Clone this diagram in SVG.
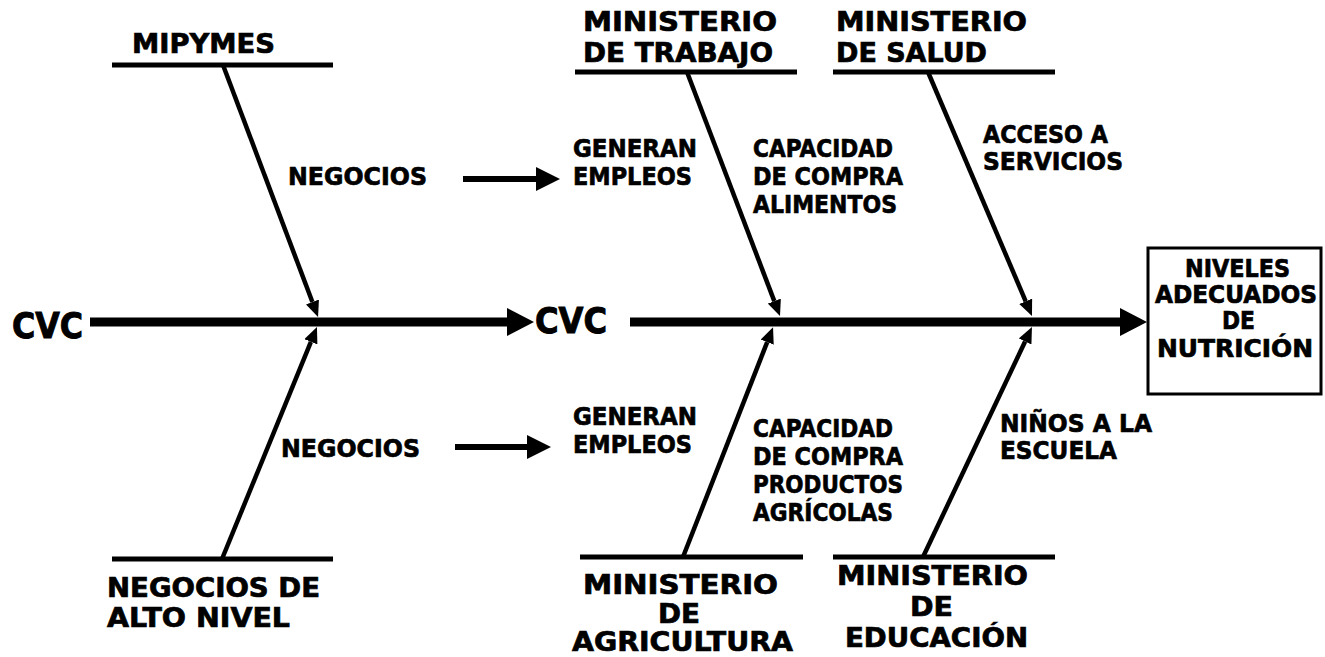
<svg xmlns="http://www.w3.org/2000/svg" width="1325" height="657" viewBox="0 0 1325 657">
<style>
text{font-family:"DejaVu Sans","Verdana","Liberation Sans",sans-serif;font-weight:bold;fill:#000;stroke:#000;stroke-width:0.7px;}
.big{font-size:26px;}
.sm{font-size:25px;}
.box{font-size:24px;}
.cvc{font-size:35px;stroke-width:1px;}
.bone{stroke:#000;stroke-width:5;fill:none;}
.diag{stroke:#000;stroke-width:4.5;fill:none;marker-end:url(#hs);}
.spine{stroke:#000;stroke-width:9;fill:none;marker-end:url(#hb);}
.arr{stroke:#000;stroke-width:6;fill:none;marker-end:url(#hm);}
</style>
<defs>
<marker id="hb" markerUnits="userSpaceOnUse" markerWidth="27" markerHeight="28" refX="0" refY="14" orient="auto"><path d="M0,0 L27,14 L0,28 z" fill="#000"/></marker>
<marker id="hm" markerUnits="userSpaceOnUse" markerWidth="24" markerHeight="24" refX="0" refY="12" orient="auto"><path d="M0,0 L24,12 L0,24 z" fill="#000"/></marker>
<marker id="hs" markerUnits="userSpaceOnUse" markerWidth="16" markerHeight="14" refX="0" refY="7" orient="auto"><path d="M0,0 L16,7 L0,14 z" fill="#000"/></marker>
</defs>
<rect width="1325" height="657" fill="#fff"/>
<g id="connectors">
<line class="spine" x1="90" y1="322" x2="507" y2="322"/>
<line class="spine" x1="630" y1="322" x2="1120" y2="322"/>
<line class="arr" x1="463" y1="179" x2="536" y2="179"/>
<line class="arr" x1="455" y1="447" x2="527" y2="447"/>
<line class="bone" x1="112" y1="65" x2="333" y2="65"/>
<line class="bone" x1="112" y1="559" x2="333" y2="559"/>
<line class="bone" x1="575" y1="72" x2="797" y2="72"/>
<line class="bone" x1="833" y1="72" x2="1055" y2="72"/>
<line class="bone" x1="580" y1="557" x2="803" y2="557"/>
<line class="bone" x1="833" y1="557" x2="1055" y2="557"/>
<line class="diag" x1="223" y1="65" x2="312.4" y2="302"/>
<line class="diag" x1="222" y1="559" x2="310.9" y2="341.8"/>
<line class="diag" x1="687" y1="72" x2="774.3" y2="301.1"/>
<line class="diag" x1="683" y1="557" x2="767.2" y2="342.1"/>
<line class="diag" x1="928" y1="72" x2="1025.7" y2="301.3"/>
<line class="diag" x1="923" y1="557" x2="1025.1" y2="341.5"/>
</g>
<g id="cvc1"><text class="cvc" x="12" y="338" textLength="71" lengthAdjust="spacingAndGlyphs">CVC</text></g>
<g id="cvc2"><text class="cvc" x="535" y="333" textLength="72" lengthAdjust="spacingAndGlyphs">CVC</text></g>
<g id="mipymes"><text class="big" x="132" y="53" textLength="143" lengthAdjust="spacingAndGlyphs">MIPYMES</text></g>
<g id="negocios-alto">
<text class="big" x="107" y="597" textLength="213" lengthAdjust="spacingAndGlyphs">NEGOCIOS DE</text>
<text class="big" x="107" y="627" textLength="183" lengthAdjust="spacingAndGlyphs">ALTO NIVEL</text>
</g>
<g id="negocios-top"><text class="sm" x="288" y="185" textLength="139" lengthAdjust="spacingAndGlyphs">NEGOCIOS</text></g>
<g id="negocios-bottom"><text class="sm" x="281" y="457" textLength="139" lengthAdjust="spacingAndGlyphs">NEGOCIOS</text></g>
<g id="min-trabajo">
<text class="big" x="583" y="31" textLength="194" lengthAdjust="spacingAndGlyphs">MINISTERIO</text>
<text class="big" x="583" y="62" textLength="190" lengthAdjust="spacingAndGlyphs">DE TRABAJO</text>
</g>
<g id="min-salud">
<text class="big" x="836" y="31" textLength="191" lengthAdjust="spacingAndGlyphs">MINISTERIO</text>
<text class="big" x="836" y="62" textLength="151" lengthAdjust="spacingAndGlyphs">DE SALUD</text>
</g>
<g id="min-agricultura">
<text class="big" x="583" y="594" textLength="195" lengthAdjust="spacingAndGlyphs">MINISTERIO</text>
<text class="big" x="658" y="623" textLength="42" lengthAdjust="spacingAndGlyphs">DE</text>
<text class="big" x="572" y="651" textLength="221" lengthAdjust="spacingAndGlyphs">AGRICULTURA</text>
</g>
<g id="min-educacion">
<text class="big" x="837" y="585" textLength="191" lengthAdjust="spacingAndGlyphs">MINISTERIO</text>
<text class="big" x="910" y="616" textLength="43" lengthAdjust="spacingAndGlyphs">DE</text>
<text class="big" x="845" y="647" textLength="183" lengthAdjust="spacingAndGlyphs">EDUCACIÓN</text>
</g>
<g id="generan-top">
<text class="sm" x="573" y="157" textLength="124" lengthAdjust="spacingAndGlyphs">GENERAN</text>
<text class="sm" x="573" y="185" textLength="119" lengthAdjust="spacingAndGlyphs">EMPLEOS</text>
</g>
<g id="capacidad-top">
<text class="sm" x="753" y="157" textLength="140" lengthAdjust="spacingAndGlyphs">CAPACIDAD</text>
<text class="sm" x="753" y="185" textLength="150" lengthAdjust="spacingAndGlyphs">DE COMPRA</text>
<text class="sm" x="753" y="213" textLength="144" lengthAdjust="spacingAndGlyphs">ALIMENTOS</text>
</g>
<g id="acceso">
<text class="sm" x="983" y="143" textLength="125" lengthAdjust="spacingAndGlyphs">ACCESO A</text>
<text class="sm" x="983" y="170" textLength="140" lengthAdjust="spacingAndGlyphs">SERVICIOS</text>
</g>
<g id="generan-bottom">
<text class="sm" x="573" y="425" textLength="124" lengthAdjust="spacingAndGlyphs">GENERAN</text>
<text class="sm" x="573" y="453" textLength="119" lengthAdjust="spacingAndGlyphs">EMPLEOS</text>
</g>
<g id="capacidad-bottom">
<text class="sm" x="753" y="437" textLength="140" lengthAdjust="spacingAndGlyphs">CAPACIDAD</text>
<text class="sm" x="753" y="465" textLength="150" lengthAdjust="spacingAndGlyphs">DE COMPRA</text>
<text class="sm" x="753" y="493" textLength="150" lengthAdjust="spacingAndGlyphs">PRODUCTOS</text>
<text class="sm" x="753" y="521" textLength="140" lengthAdjust="spacingAndGlyphs">AGRÍCOLAS</text>
</g>
<g id="ninos">
<text class="sm" x="1000" y="432" textLength="152" lengthAdjust="spacingAndGlyphs">NIÑOS A LA</text>
<text class="sm" x="1000" y="459" textLength="117" lengthAdjust="spacingAndGlyphs">ESCUELA</text>
</g>
<g id="niveles">
<rect x="1148" y="248" width="173" height="146" fill="#fff" stroke="#000" stroke-width="3"/>
<text class="box" x="1185" y="277" textLength="105" lengthAdjust="spacingAndGlyphs">NIVELES</text>
<text class="box" x="1155" y="303" textLength="162" lengthAdjust="spacingAndGlyphs">ADECUADOS</text>
<text class="box" x="1222" y="329" textLength="33" lengthAdjust="spacingAndGlyphs">DE</text>
<text class="box" x="1157" y="357" textLength="156" lengthAdjust="spacingAndGlyphs">NUTRICIÓN</text>
</g>
</svg>
